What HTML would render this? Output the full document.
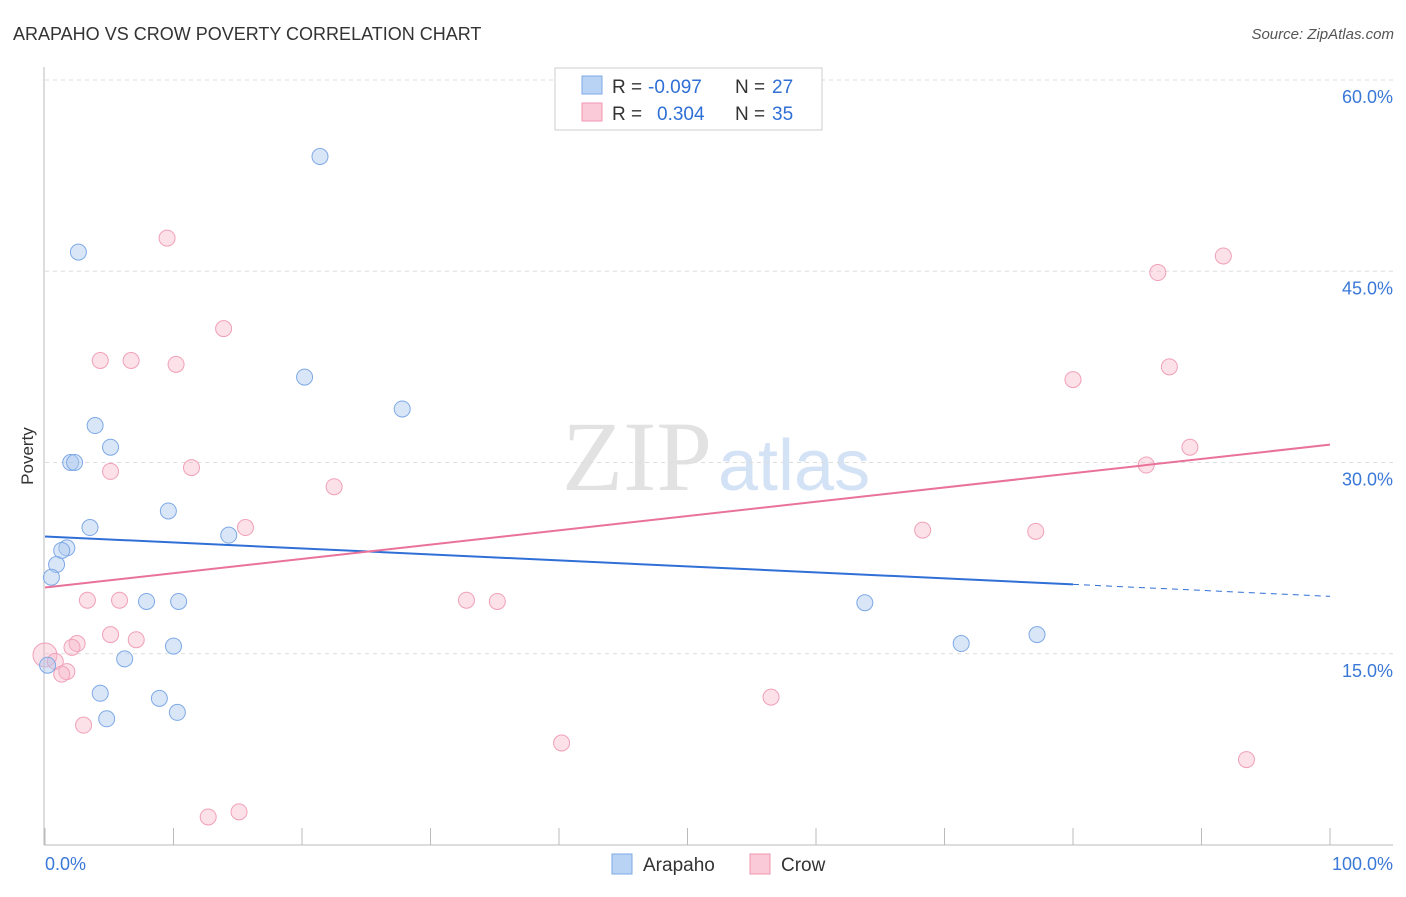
<!DOCTYPE html>
<html><head><meta charset="utf-8"><style>
body{margin:0;background:#fff;font-family:"Liberation Sans",sans-serif;}
</style></head><body>
<svg width="1406" height="892" xmlns="http://www.w3.org/2000/svg" style="font-family:'Liberation Sans',sans-serif">
<text x="13" y="40" font-size="18" fill="#333">ARAPAHO VS CROW POVERTY CORRELATION CHART</text>
<text x="1394" y="39" font-size="15" fill="#555" font-style="italic" text-anchor="end">Source: ZipAtlas.com</text>
<text x="712" y="490" font-size="100" fill="#e2e2e2" text-anchor="end" font-family="Liberation Serif">ZIP</text>
<text x="718" y="490" font-size="72" fill="#d4e2f6">atlas</text>
<g id="grid"></g>
<g id="axes"></g>
<text x="33" y="456" font-size="17" fill="#333" text-anchor="middle" transform="rotate(-90 33 456)">Poverty</text>
<g id="marks"></g>
<g>
<rect x="555" y="68" width="267" height="62" fill="#fff" stroke="#ccc"/>
<rect x="582" y="76" width="20" height="18" fill="#b9d3f5" stroke="#7ea9e6"/>
<rect x="582" y="103" width="20" height="18" fill="#fbcad8" stroke="#f097b2"/>
<text y="93" font-size="19" fill="#333"><tspan x="612">R =</tspan><tspan x="648" fill="#2f6fd6">-0.097</tspan><tspan x="735">N =</tspan><tspan x="772" fill="#2f6fd6">27</tspan></text>
<text y="120" font-size="19" fill="#333"><tspan x="612">R =</tspan><tspan x="657" fill="#2f6fd6">0.304</tspan><tspan x="735">N =</tspan><tspan x="772" fill="#2f6fd6">35</tspan></text>
</g>
<g>
<rect x="612" y="854" width="20" height="20" fill="#b9d3f5" stroke="#7ea9e6"/>
<text x="643" y="871" font-size="19" fill="#333">Arapaho</text>
<rect x="750" y="854" width="20" height="20" fill="#fbcad8" stroke="#f097b2"/>
<text x="781" y="871" font-size="19" fill="#333">Crow</text>
</g>
</svg>
<script>
const yTicks=[15,30,45,60];
const xTickLabels=["0.0%","100.0%"];
const blueX=[21.4,2.6,20.2,27.8,3.9,5.1,2.0,2.3,9.6,3.5,14.3,1.7,1.3,0.9,0.5,7.9,10.4,63.8,10.0,71.3,77.2,6.2,0.2,4.3,8.9,10.3,4.8];
const blueY=[54.0,46.5,36.7,34.2,32.9,31.2,30.0,30.0,26.2,24.9,24.3,23.3,23.1,22.0,21.0,19.1,19.1,19.0,15.6,15.8,16.5,14.6,14.1,11.9,11.5,10.4,9.9];
const pinkX=[9.5,13.9,4.3,6.7,10.2,5.1,11.4,22.5,15.6,3.3,5.8,32.8,35.2,5.1,7.1,2.5,2.1,0,0.8,1.7,1.3,3.0,40.2,56.5,12.7,15.1,86.6,91.7,80.0,87.5,89.1,85.7,68.3,77.1,93.5];
const pinkY=[47.6,40.5,38.0,38.0,37.7,29.3,29.6,28.1,24.9,19.2,19.2,19.2,19.1,16.5,16.1,15.8,15.5,14.9,14.4,13.6,13.4,9.4,8.0,11.6,2.2,2.6,44.9,46.2,36.5,37.5,31.2,29.8,24.7,24.6,6.7];
const blueTrend=[24.2,19.5];
const pinkTrend=[20.2,31.4];
const NS="http://www.w3.org/2000/svg";
const sx=v=>45+v*12.85, sy=v=>845-v*12.75;
function mk(t,a,p){const e=document.createElementNS(NS,t);for(const k in a)e.setAttribute(k,a[k]);document.getElementById(p).appendChild(e);return e;}
yTicks.forEach(t=>{
 const l=mk('line',{x1:45,x2:1393,y1:sy(t),y2:sy(t),stroke:'#ddd','stroke-dasharray':'4,4'},'grid');
 
 
 const tx=mk('text',{x:1393,y:sy(t)+23,'font-size':18,fill:'#3a78d8','text-anchor':'end'},'grid');
 tx.textContent=t.toFixed(1)+'%';
 
 
});
let ax=mk('line',{x1:44,x2:44,y1:67,y2:845,stroke:'#bbb'},'axes');


ax=mk('line',{x1:44,x2:1393,y1:845,y2:845,stroke:'#bbb'},'axes');


for(let i=0;i<=10;i++){const x=sx(i*10);const t=mk('line',{x1:x,x2:x,y1:828,y2:845,stroke:'#bbb'},'axes');
 
 }
[[0,'start',45],[1,'end',1393]].forEach(([i,a,x])=>{const t=mk('text',{x:x,y:870,'font-size':18,fill:'#3a78d8','text-anchor':a},'axes');t.textContent=xTickLabels[i];
 
 });
pinkX.forEach((x,i)=>{const c=mk('circle',{cx:sx(x),cy:sy(pinkY[i]),r:x===0?12:8,fill:'rgba(248,180,200,0.4)',stroke:'#f0a0b8','stroke-width':1},'marks');
 
 });
blueX.forEach((x,i)=>{const c=mk('circle',{cx:sx(x),cy:sy(blueY[i]),r:8,fill:'rgba(170,200,240,0.45)',stroke:'#7ea9e6','stroke-width':1},'marks');
 
 });
const bAt=v=>blueTrend[0]+(blueTrend[1]-blueTrend[0])*v/100;
let l=mk('line',{x1:sx(0),y1:sy(bAt(0)),x2:sx(80),y2:sy(bAt(80)),stroke:'#2f6fd6','stroke-width':2},'marks');


l=mk('line',{x1:sx(80),y1:sy(bAt(80)),x2:sx(100),y2:sy(bAt(100)),stroke:'#2f6fd6','stroke-width':1,'stroke-dasharray':'6,5'},'marks');


l=mk('line',{x1:sx(0),y1:sy(pinkTrend[0]),x2:sx(100),y2:sy(pinkTrend[1]),stroke:'#e8729a','stroke-width':2},'marks');


</script>
</body></html>
